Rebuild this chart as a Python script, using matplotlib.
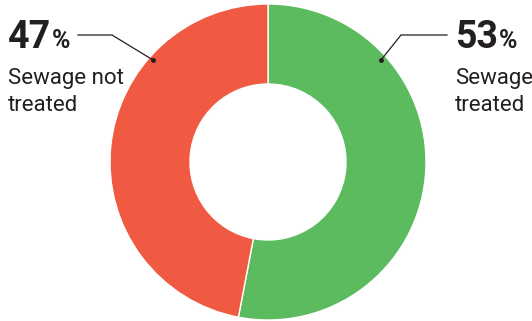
import matplotlib.pyplot as plt

labels = ['Sewage\ntreated', 'Sewage not\ntreated']
shares = [53, 47]
colors = ['#5dbb5f', '#f05a43']

fig = plt.figure(figsize=(5.32, 3.21), dpi=100)
ax = fig.add_axes([0, 0, 1, 1])

center = (268, 159)
radius = 158
ax.pie(shares, colors=colors, startangle=90, counterclock=False,
       center=center, radius=radius, frame=True,
       wedgeprops=dict(width=80, edgecolor='white', linewidth=1))
ax.set_xlim(0, 532)
ax.set_ylim(0, 321)
ax.set_aspect('equal')
ax.axis('off')

txt = '#231f20'
font = 'Roboto'

def label(x, value, text, line_x, line_y):
    num = ax.text(x, 273, f'{value}', fontsize=27, fontweight='bold', color=txt,
                  family=font, ha='left', va='baseline')
    ax.annotate('%', xy=(1, 273), xycoords=(num, 'data'), xytext=(0.5, 0),
                textcoords='offset points', fontsize=18, fontweight='bold',
                color=txt, family=font, ha='left', va='baseline')
    first, second = text.split('\n')
    ax.text(x, 237, first, fontsize=16, color=txt, family=font, va='baseline')
    ax.text(x, 210, second, fontsize=16, color=txt, family=font, va='baseline')
    ax.plot(line_x, line_y, color=txt, lw=0.9)
    ax.plot(line_x[-1], line_y[-1], 'o', color=txt, ms=2.5)

label(455, shares[0], labels[0], [447, 401, 381], [286, 286, 261])
label(8, shares[1], labels[1], [78, 112, 153], [286, 286, 261])

fig.savefig('out.png', dpi=100)
